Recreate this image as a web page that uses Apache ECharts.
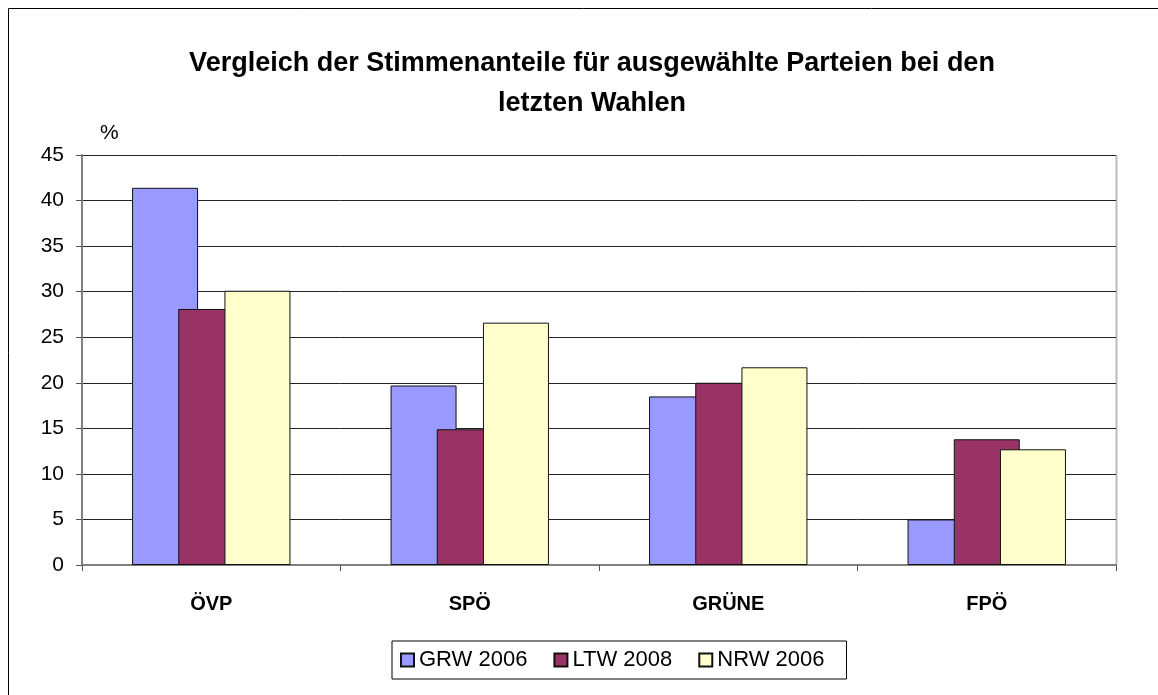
<!DOCTYPE html>
<html><head><meta charset="utf-8">
<script src="https://cdn.jsdelivr.net/npm/echarts@6/dist/echarts.min.js"></script>
<style>html,body{margin:0;padding:0;background:#fff}#c{width:1158px;height:695px}</style>
</head><body><div id="c"></div>
<script>
const categories = ['ÖVP', 'SPÖ', 'GRÜNE', 'FPÖ'];
const grw2006 = [41.4, 19.7, 18.5, 5.0];
const ltw2008 = [28.1, 14.9, 20.0, 13.8];
const nrw2006 = [30.1, 26.6, 21.7, 12.7];
const seriesNames = ['GRW 2006', 'LTW 2008', 'NRW 2006'];
const colors = ['#9999FF', '#993366', '#FFFFCC'];
const titleText = 'Vergleich der Stimmenanteile für ausgewählte Parteien bei den\nletzten Wahlen';
const yUnit = '%';

const font = 'Liberation Sans, Arial, sans-serif';
const chart = echarts.init(document.getElementById('c'));
const data = [grw2006, ltw2008, nrw2006];
chart.setOption({
  animation: false,
  backgroundColor: '#fff',
  textStyle: { fontFamily: font },
  graphic: [
    { type: 'rect', shape: { x: 8.5, y: 8.5, width: 1200, height: 800 }, style: { fill: 'none', stroke: '#000', lineWidth: 1 }, z: -1 },
    { type: 'line', shape: { x1: 1116.5, y1: 155, x2: 1116.5, y2: 565 }, style: { stroke: '#bbb', lineWidth: 2 } },
    { type: 'text', left: 100, top: 123, style: { text: yUnit, fontSize: 21, fill: '#000', font: '21px ' + font } }
  ],
  title: {
    text: titleText, left: 587, top: 39, textAlign: 'center',
    textStyle: { fontSize: 27, fontWeight: 'bold', color: '#000', lineHeight: 40, fontFamily: font }
  },
  legend: {
    data: seriesNames, left: 392, top: 641, itemWidth: 13, itemHeight: 13, itemGap: 26,
    padding: [8, 22, 8, 8], borderColor: '#000', borderWidth: 1, icon: 'rect',
    textStyle: { fontSize: 22, color: '#000', fontFamily: font }
  },
  grid: { left: 82, right: 42, top: 155, bottom: 130, containLabel: false },
  xAxis: {
    type: 'category', data: categories,
    axisLine: { lineStyle: { color: '#808080', width: 2 } },
    axisTick: { show: true, length: 6, lineStyle: { color: '#555' } },
    axisLabel: { fontSize: 20, fontWeight: 'bold', color: '#000', margin: 29, fontFamily: font }
  },
  yAxis: {
    type: 'value', min: 0, max: 45, interval: 5,
    axisLine: { show: true, lineStyle: { color: '#808080', width: 2 } },
    axisTick: { show: true, length: 6, lineStyle: { color: '#555' } },
    axisLabel: { fontSize: 21, color: '#000', margin: 18, fontFamily: font },
    splitLine: { lineStyle: { color: '#222', width: 1 } }
  },
  series: data.map((d, i) => ({
    name: seriesNames[i], type: 'bar', data: d,
    barWidth: 66, barGap: '-30%',
    itemStyle: { color: colors[i], borderColor: '#111', borderWidth: 1 },
    z: 2 + i
  }))
});
</script></body></html>
